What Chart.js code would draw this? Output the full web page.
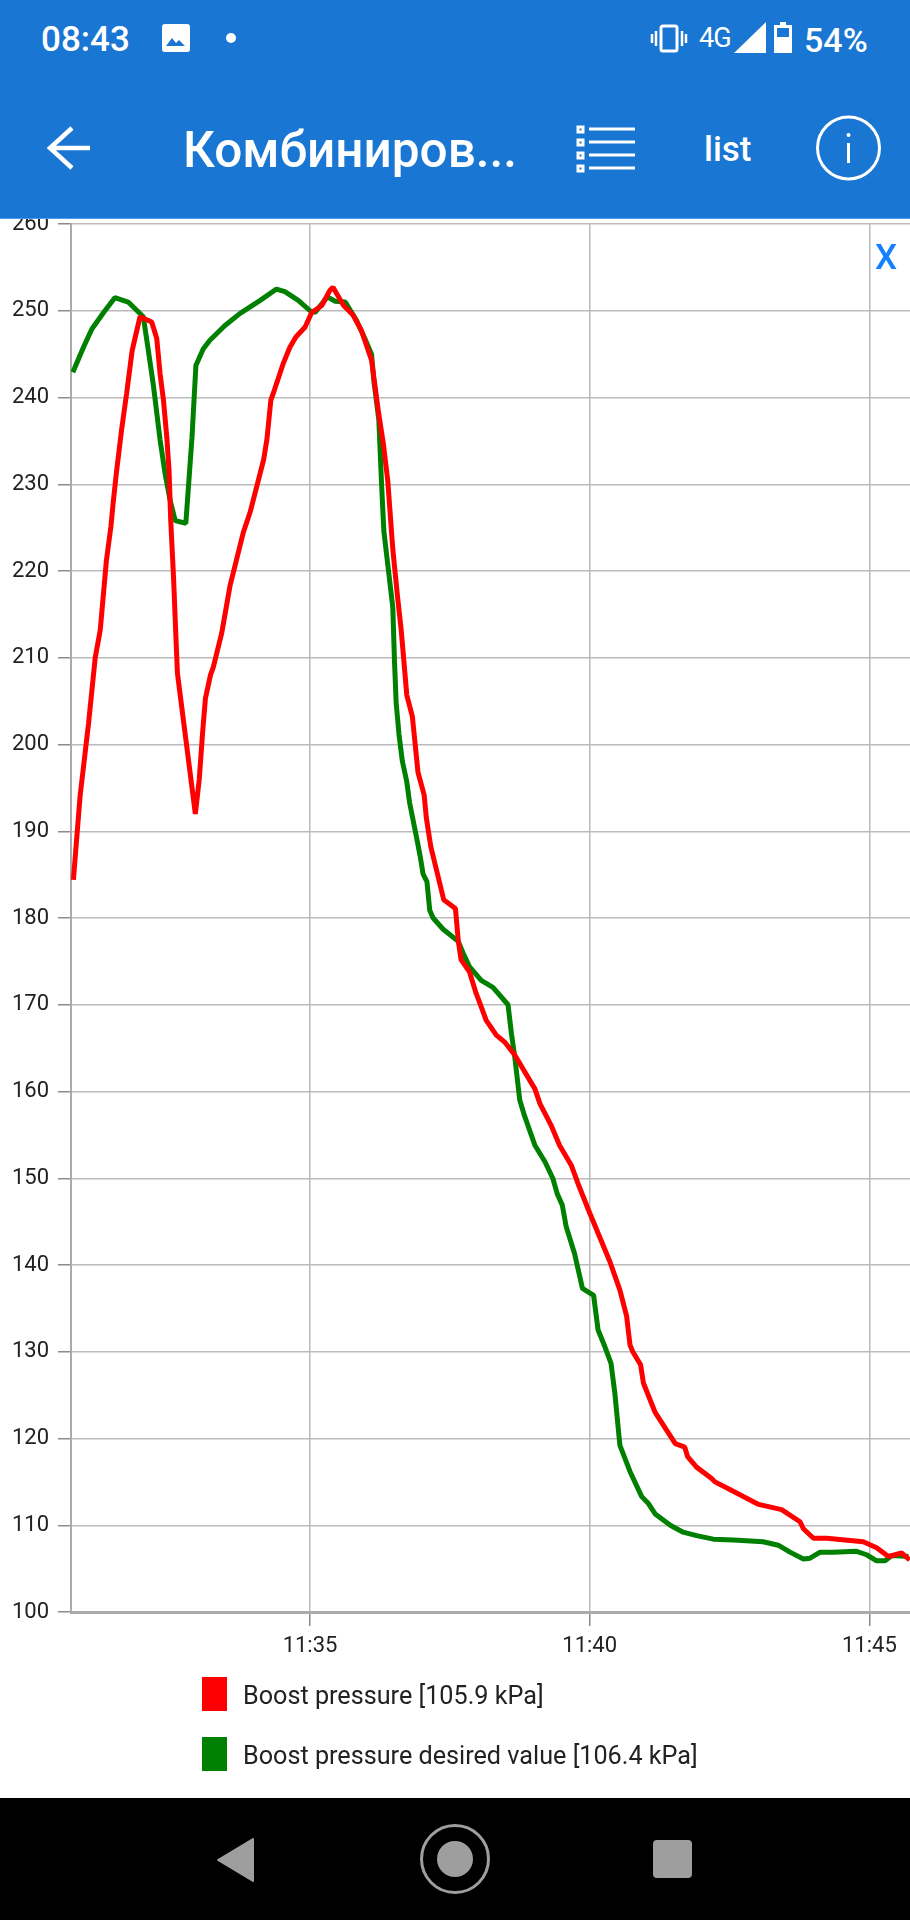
<!DOCTYPE html>
<html>
<head>
<meta charset="utf-8">
<title>Boost pressure</title>
<script src="https://cdn.jsdelivr.net/npm/chart.js@4"></script>
<style>
  html, body { margin: 0; padding: 0; background: #fff; }
  body { width: 910px; height: 1920px; position: relative; overflow: hidden; font-family: Roboto, sans-serif; }
  #chartBox { position: absolute; left: 0; top: 219px; width: 910px; height: 1579px; }
  #header { position: absolute; left: 0; top: 0; width: 910px; height: 219px; background: #1976d2; border-bottom: 1px solid #4a9bf0; box-sizing: border-box; color: #fff; }
  #header span, #closeBtn, .legend-text { position: absolute; white-space: nowrap; }
  #header svg, #nav svg { position: absolute; left: 0; top: 0; }
  #nav { position: absolute; left: 0; top: 1798px; width: 910px; height: 122px; background: #000; }
  #closeBtn { left: 875px; top: 239px; font-size: 35px; font-weight: 500; color: #1480ff; line-height: 38px; }
  .legend-box { position: absolute; left: 202px; width: 25px; height: 34px; }
  .legend-text { left: 243px; font-size: 25.2px; color: #222; line-height: 34px; }
</style>
</head>
<body>
<div id="chartBox"><canvas id="boostChart"></canvas></div>

<div id="header">
  <svg width="910" height="219" fill="none" stroke="#fff">
    <!-- photo -->
    <rect x="162" y="24" width="28" height="28" rx="3" fill="#fff" stroke="none"/>
    <path d="M166 46l6-8 4 5 3-3 6 6z" fill="#1976d2" stroke="none"/>
    <circle cx="231" cy="38" r="5" fill="#fff" stroke="none"/>
    <!-- vibrate -->
    <rect x="661" y="26" width="16" height="25" rx="2" stroke-width="3"/>
    <path d="M656 31v15M652 34v9M682 31v15M686 34v9" stroke-width="2.5"/>
    <!-- signal and battery -->
    <path d="M766 22v31h-32z" fill="#fff" stroke="none"/>
    <path d="M780 22h6v3h6v28h-18v-28h6z" fill="#fff" stroke="none"/>
    <rect x="777" y="28" width="12" height="9" fill="#1976d2" stroke="none"/>
    <!-- back arrow -->
    <path d="M50 148h40M72 128l-22 20 22 20" stroke-width="4.5"/>
    <!-- list icon -->
    <g stroke-width="3">
      <rect x="578" y="127" width="5" height="5"/>
      <rect x="578" y="140" width="5" height="5"/>
      <rect x="578" y="153" width="5" height="5"/>
      <rect x="578" y="166" width="5" height="5"/>
      <path d="M589 129h46M589 142h46M589 155h46M589 168h46"/>
    </g>
    <!-- info -->
    <circle cx="848.5" cy="148" r="31" stroke-width="3"/>
    <circle cx="848.5" cy="135" r="2" fill="#fff" stroke="none"/>
    <path d="M848.5 143v20" stroke-width="3"/>
  </svg>
  <span style="left:41px;top:20px;font-size:35px;font-weight:500;line-height:40px">08:43</span>
  <span style="left:699px;top:22px;font-size:27px;line-height:32px;letter-spacing:-1px">4G</span>
  <span style="left:804px;top:20px;font-size:34px;font-weight:500;line-height:40px">54%</span>
  <span style="left:183px;top:123px;font-size:49.5px;font-weight:500;line-height:54px">Комбиниров...</span>
  <span style="left:704px;top:130px;font-size:35px;font-weight:500;line-height:40px">list</span>
</div>

<div id="closeBtn">X</div>
<div id="legend"></div>

<div id="nav">
  <svg width="910" height="122">
    <path d="M253 41v42l-35-21z" fill="#9e9e9e" stroke="#9e9e9e" stroke-width="2" stroke-linejoin="round"/>
    <circle cx="455" cy="61" r="33.5" fill="none" stroke="#9e9e9e" stroke-width="3"/>
    <circle cx="455" cy="61" r="18" fill="#9e9e9e"/>
    <rect x="653" y="42" width="39" height="38" rx="4" fill="#9e9e9e"/>
  </svg>
</div>

<script>
// Series values. Time is minutes past 11:00, pressure in kPa.
const redTimes = [30.77, 30.89, 31.04, 31.16, 31.25, 31.36, 31.44, 31.48, 31.54, 31.63, 31.72, 31.82, 31.96, 32.17, 32.26, 32.32, 32.38, 32.44, 32.48, 32.51, 32.56, 32.60, 32.63, 32.79, 32.95, 33.02, 33.08, 33.13, 33.22, 33.27, 33.42, 33.57, 33.81, 33.93, 34.17, 34.23, 34.30, 34.36, 34.52, 34.64, 34.75, 34.91, 35.03, 35.21, 35.35, 35.41, 35.60, 35.77, 35.92, 36.10, 36.22, 36.31, 36.39, 36.48, 36.57, 36.63, 36.73, 36.83, 36.93, 37.04, 37.08, 37.16, 37.27, 37.39, 37.60, 37.65, 37.70, 37.85, 37.97, 38.03, 38.15, 38.33, 38.48, 38.66, 39.02, 39.11, 39.31, 39.46, 39.67, 39.79, 40.00, 40.36, 40.54, 40.66, 40.72, 40.77, 40.91, 40.96, 41.17, 41.53, 41.70, 41.75, 41.91, 42.18, 42.24, 42.54, 43.02, 43.43, 43.76, 43.82, 44.00, 44.24, 44.89, 45.13, 45.34, 45.58, 45.72];
const redValues = [184.4, 194.1, 202.4, 210, 213.2, 221.2, 225.1, 227.8, 231.4, 236.2, 240.4, 245.4, 249.3, 248.7, 246.8, 242.7, 239.7, 235.4, 231.6, 225.8, 219.3, 212.8, 208.2, 200.1, 192, 196, 201.4, 205.3, 208, 208.9, 212.8, 218.3, 224.5, 226.8, 232.8, 235.2, 239.7, 240.8, 243.9, 245.8, 247, 248.1, 249.8, 250.6, 252.3, 252.7, 250.6, 249.5, 247.7, 244.3, 238.5, 234.7, 230.4, 222.5, 216.7, 213.2, 205.7, 203.2, 196.8, 194.2, 191.5, 188.2, 185.3, 182.1, 181.1, 177.4, 175.2, 173.8, 171.3, 170.3, 168.2, 166.5, 165.7, 164.2, 160.3, 158.6, 156.1, 153.8, 151.5, 149.4, 146, 140.4, 137.1, 134.1, 130.8, 130, 128.5, 126.4, 123, 119.4, 119, 117.9, 116.7, 115.4, 115, 114, 112.4, 111.8, 110.4, 109.6, 108.5, 108.5, 108.1, 107.4, 106.4, 106.8, 106];

const greenTimes = [30.76, 30.95, 31.10, 31.31, 31.51, 31.75, 32.02, 32.11, 32.20, 32.32, 32.41, 32.50, 32.59, 32.78, 32.89, 32.96, 33.09, 33.21, 33.48, 33.75, 34.11, 34.40, 34.55, 34.79, 35.00, 35.09, 35.31, 35.45, 35.63, 35.83, 35.98, 36.10, 36.14, 36.23, 36.28, 36.32, 36.48, 36.51, 36.54, 36.59, 36.65, 36.73, 36.78, 36.91, 36.97, 37.02, 37.09, 37.14, 37.20, 37.38, 37.65, 37.74, 37.85, 38.06, 38.27, 38.54, 38.60, 38.66, 38.75, 38.84, 39.02, 39.20, 39.34, 39.42, 39.51, 39.58, 39.73, 39.87, 40.07, 40.15, 40.27, 40.38, 40.45, 40.49, 40.54, 40.72, 40.93, 41.05, 41.17, 41.44, 41.67, 41.91, 42.21, 42.57, 43.10, 43.37, 43.58, 43.82, 43.94, 44.12, 44.36, 44.77, 44.95, 45.13, 45.28, 45.40, 45.70];
const greenValues = [242.9, 245.8, 247.9, 249.8, 251.5, 251, 249.3, 245.4, 241.4, 235.1, 231.2, 228.1, 225.8, 225.5, 235.4, 243.7, 245.6, 246.6, 248.3, 249.7, 251.2, 252.5, 252.2, 251.2, 250, 249.8, 251.6, 251.1, 251, 248.9, 246.8, 245, 242, 237.4, 229.9, 224.6, 215.8, 209.6, 204.8, 201.2, 198.1, 195.7, 193.3, 189.1, 187.1, 185.1, 184.2, 180.9, 180, 178.7, 177.3, 175.9, 174.4, 172.8, 172, 170, 166.7, 164, 159, 157.1, 153.8, 151.9, 150, 148.2, 146.9, 144.4, 141.3, 137.3, 136.5, 132.5, 130.6, 128.7, 125.2, 122.5, 119.2, 116.2, 113.3, 112.5, 111.3, 110, 109.2, 108.8, 108.4, 108.3, 108.1, 107.7, 106.9, 106.1, 106.2, 106.9, 106.9, 107, 106.6, 105.9, 105.9, 106.5, 106.4];

const seriesNames = ["Boost pressure [105.9 kPa]", "Boost pressure desired value [106.4 kPa]"];
const seriesColors = ["#ff0000", "#008000"];
const timeTicks = [35, 40, 45];

const toPoints = (times, values) => times.map((t, i) => ({ x: t, y: values[i] }));

/* ── Legend ─────────────────────────────────────────────────*/
document.getElementById("legend").innerHTML = seriesNames.map((name, i) => {
  const top = 1677 + i * 60;
  return `<div class="legend-box" style="top:${top}px;background:${seriesColors[i]}"></div>
    <div class="legend-text" style="top:${top + 2}px">${name}</div>`;
}).join("");

/* ── Chart ──────────────────────────────────────────────────*/
new Chart(document.getElementById("boostChart"), {
  type: "line",
  data: {
    datasets: [
      { label: seriesNames[0], data: toPoints(redTimes, redValues), borderColor: seriesColors[0] },
      { label: seriesNames[1], data: toPoints(greenTimes, greenValues), borderColor: seriesColors[1] }
    ]
  },
  options: {
    responsive: true,
    maintainAspectRatio: false,
    animation: false,
    layout: { padding: { top: 5 } },
    elements: {
      point: { radius: 0 },
      line: { borderWidth: 5, tension: 0, borderJoinStyle: "bevel" }
    },
    scales: {
      x: {
        type: "linear",
        min: 30.727,
        max: 45.726,
        afterBuildTicks: scale => { scale.ticks = timeTicks.map(v => ({ value: v })); },
        afterFit: scale => {
          scale.height = 186;
          scale.paddingLeft = 0;
          scale.paddingRight = 0;
        },
        grid: { color: "#bbbbbb", lineWidth: 1.5, tickColor: "#8a8a8a", tickLength: 14 },
        border: { color: "#aaaaaa", width: 3 },
        ticks: {
          color: "#222",
          padding: 7,
          maxRotation: 0,
          font: { family: "Roboto", size: 22 },
          callback: v => `11:${v}`
        }
      },
      y: {
        min: 100,
        max: 260,
        // the 260 label sits half under the app bar, so no room is kept for it
        afterFit: scale => {
          scale.width = 71;
          scale.paddingTop = 0;
          scale.paddingBottom = 0;
        },
        grid: { color: "#bbbbbb", lineWidth: 1.5, tickColor: "#8a8a8a", tickLength: 13 },
        border: { color: "#aaaaaa", width: 2 },
        ticks: {
          stepSize: 10,
          color: "#222",
          padding: 9,
          font: { family: "Roboto", size: 22 }
        }
      }
    },
    plugins: {
      legend: { display: false },
      tooltip: { enabled: false }
    }
  }
});
</script>
</body>
</html>
